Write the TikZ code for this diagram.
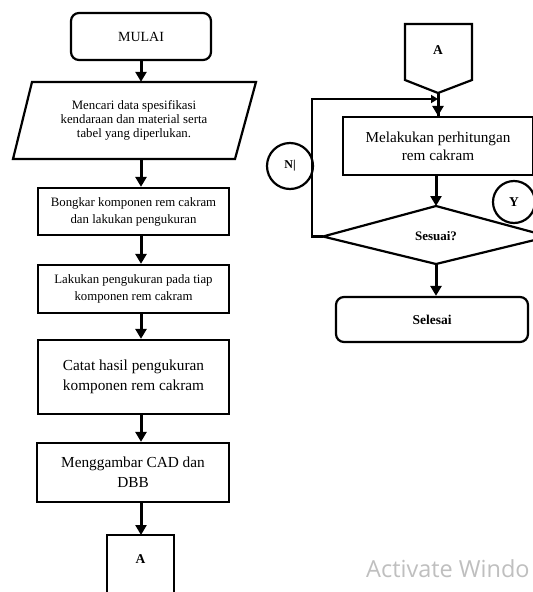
\documentclass[tikz,border=0pt]{standalone}
\usepackage{fontspec}
\setmainfont{Liberation Serif}
\newfontfamily\winfont{Open Sans}
\usetikzlibrary{arrows.meta,calc}
\tikzset{
  box/.style={draw, line width=2.2pt, rectangle, inner sep=0pt, align=center},
  rbox/.style={box, rounded corners=8pt},
  arr/.style={line width=3pt, -{Triangle[width=11pt,length=10pt]}},
  lin/.style={line width=2.2pt},
  small/.style={font=\fontsize{12.8}{14}\selectfont},
  smallb/.style={font=\fontsize{12.8}{17}\selectfont},
  big/.style={font=\fontsize{15.3}{20}\selectfont},
  lab/.style={font=\fontsize{13.5}{15}\selectfont\bfseries},
  circ/.style={draw, circle, line width=2.2pt, inner sep=0pt}
}
\begin{document}
\begin{tikzpicture}[x=1pt,y=-1pt]
\clip (0,0) rectangle (533,592);
\fill[white] (0,0) rectangle (533,592);
% left column
\node[rbox, minimum width=140pt, minimum height=47pt, font=\fontsize{14}{15}\selectfont] (mulai) at (141,36.5) {MULAI};
\draw[lin, line join=miter] (32,82) coordinate (p1) -- (256,82) coordinate (p2) -- (235,159) coordinate (p3) -- (13,159) coordinate (p4) -- cycle;
\node[small, minimum height=77pt, inner sep=0pt, align=center] (para) at (134,120.5) {Mencari data spesifikasi\\kendaraan dan material serta\\tabel yang diperlukan.};
\node[box, smallb, minimum width=191pt, minimum height=47pt] (b2) at (133.5,211.5) {Bongkar komponen rem cakram\\dan lakukan pengukuran};
\node[box, smallb, minimum width=191pt, minimum height=48pt] (b3) at (133.5,289) {Lakukan pengukuran pada tiap\\komponen rem cakram};
\node[box, big, minimum width=191pt, minimum height=74pt] (b4) at (133.5,377) {Catat hasil pengukuran\\komponen rem cakram};
\node[box, big, minimum width=192pt, minimum height=59pt] (b5) at (133,472.5) {Menggambar CAD dan\\DBB};
\draw[lin] (107,600) -- (107,535) coordinate (a1top) -- (174,535) -- (174,600);
\node[lab] (aleft) at (140.5,559) {A};
\draw[arr] (mulai.south) -- (mulai.south |- para.north);
\draw[arr] (mulai.south |- para.south) -- (mulai.south |- b2.north);
\draw[arr] (mulai.south |- b2.south) -- (mulai.south |- b3.north);
\draw[arr] (mulai.south |- b3.south) -- (mulai.south |- b4.north);
\draw[arr] (mulai.south |- b4.south) -- (mulai.south |- b5.north);
\draw[arr] (mulai.south |- b5.south) -- (mulai.south |- a1top);
% right column
\draw[lin] (405,24) -- (472,24) -- (472,80) -- (438,93) coordinate (atip) -- (405,80) -- cycle;
\node[lab] (aright) at (438,50) {A};
\node[box, font=\fontsize{15.2}{18}\selectfont, minimum width=190pt, minimum height=58pt] (b6) at (438,146) {Melakukan perhitungan\\rem cakram};
\draw[lin] (436,206) coordinate (dtop) -- (323,236.5) coordinate (dleft) -- (436,264) coordinate (dbot) -- (549,236.5) -- cycle;
\node[font=\fontsize{13}{15}\selectfont\bfseries] (dec) at (436,236) {Sesuai?};
\node[rbox, lab, minimum width=192pt, minimum height=45pt] (sel) at (432,319.5) {Selesai};
\coordinate (lc) at (312,99);
\draw[line width=3pt] (atip) -- (atip |- b6.north);
\draw[arr] (atip |- lc) -- (b6.north);
\draw[line width=2.8pt, -{Triangle[width=8pt,length=7pt]}] (dleft) -- (lc |- dleft) -- (lc) -- (atip |- lc);
\draw[arr] (b6.south -| dtop) -- (dtop);
\draw[arr] (dbot) -- (dbot |- sel.north);
\node[circ, minimum size=46pt, font=\fontsize{12}{14}\selectfont\bfseries] (nc) at (290,166) {N\textbar};
\node[circ, minimum size=42pt, lab] (yc) at (514,202) {Y};
% watermark
\node[anchor=west, text=black!25, font=\winfont\fontsize{23.5}{26}\selectfont, inner sep=0pt] (wm) at (366,569) {Activate Windo};
\end{tikzpicture}
\end{document}
